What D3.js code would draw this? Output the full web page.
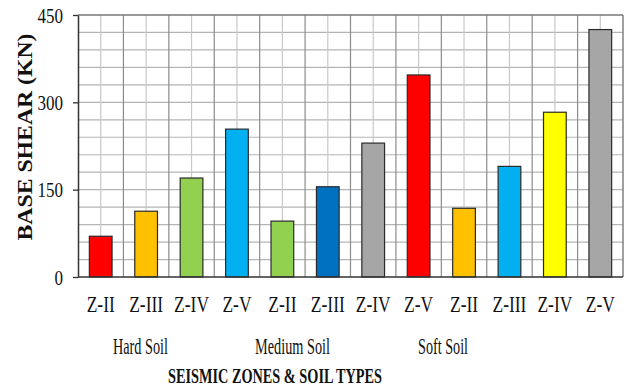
<!DOCTYPE html>
<html>
<head>
<meta charset="utf-8">
<script src="https://cdn.jsdelivr.net/npm/d3@7"></script>
<style>
  html, body { margin: 0; padding: 0; background: #fff; }
  svg { display: block; }
  svg text { font-family: "Liberation Serif", "Times New Roman", serif; fill: #111; }
</style>
</head>
<body>
<svg id="chart" width="627" height="390"></svg>
<script>
// Zone labels for each bar, soil groups, and base shear values (kN)
const zones = ["Z-II", "Z-III", "Z-IV", "Z-V", "Z-II", "Z-III", "Z-IV", "Z-V", "Z-II", "Z-III", "Z-IV", "Z-V"];
const soils = ["Hard Soil", "Medium Soil", "Soft Soil"];
const baseShear = [70, 113, 170, 254, 96, 155, 230, 347, 118, 190, 283, 425];
const yTicks = [0, 150, 300, 450];

// Bar fill palette, one per bar
const palette = ["#ff0000", "#ffc000", "#92d050", "#00b0f0",
                 "#92d050", "#0070c0", "#a6a6a6", "#ff0000",
                 "#ffc000", "#00b0f0", "#ffff00", "#a6a6a6"];

const svg = d3.select("#chart");
const plotL = 78, plotR = 623, plotT = 15, plotB = 277;
const SERIF = "Liberation Serif, Times New Roman, serif";

const idx = d3.range(baseShear.length);
const x = d3.scaleBand().domain(idx).range([plotL, plotR]).padding(0);
const y = d3.scaleLinear().domain([0, 450]).range([plotB, plotT]);

// Horizontal gridlines every 30 kN
const hLines = d3.range(30, 450, 30);
svg.append("g").selectAll("line").data(hLines).join("line")
  .attr("x1", plotL).attr("x2", plotR)
  .attr("y1", d => y(d)).attr("y2", d => y(d))
  .attr("stroke", "#b4b4b4").attr("stroke-width", 1.2);

// Vertical gridlines: light through bar centres, darker at category boundaries
svg.append("g").selectAll("line").data(idx).join("line")
  .attr("x1", d => x(d) + x.bandwidth() / 2).attr("x2", d => x(d) + x.bandwidth() / 2)
  .attr("y1", plotT).attr("y2", plotB)
  .attr("stroke", "#c8c8c8").attr("stroke-width", 1.2);
svg.append("g").selectAll("line").data(idx.slice(1)).join("line")
  .attr("x1", d => x(d)).attr("x2", d => x(d))
  .attr("y1", plotT).attr("y2", plotB)
  .attr("stroke", "#8c8c8c").attr("stroke-width", 1.2);

// Plot frame (top and right)
svg.append("line").attr("x1", plotL).attr("x2", plotR).attr("y1", plotT).attr("y2", plotT)
  .attr("stroke", "#777").attr("stroke-width", 1.4);
svg.append("line").attr("x1", plotR).attr("x2", plotR).attr("y1", plotT).attr("y2", plotB)
  .attr("stroke", "#777").attr("stroke-width", 1.4);

// Bars
const bw = x.bandwidth() * 0.5;
svg.append("g").selectAll("rect").data(idx).join("rect")
  .attr("x", d => x(d) + (x.bandwidth() - bw) / 2)
  .attr("y", d => y(baseShear[d]))
  .attr("width", bw)
  .attr("height", d => y(0) - y(baseShear[d]))
  .attr("fill", d => palette[d])
  .attr("stroke", "#2a2a2a").attr("stroke-width", 1.2);

// Y axis
const yAxis = d3.axisLeft(y).tickValues(yTicks).tickSize(5).tickSizeOuter(0).tickPadding(0);
const ya = svg.append("g").attr("transform", `translate(${plotL},0)`).call(yAxis);
ya.select(".domain").attr("stroke", "#333").attr("stroke-width", 1.5);
ya.selectAll(".tick line").attr("stroke", "#333").attr("stroke-width", 1.3);
ya.selectAll(".tick text").remove();
ya.selectAll(".tick").append("text")
  .attr("transform", "translate(-15,7.2) scale(1,1.25)")
  .attr("text-anchor", "end")
  .attr("font-family", SERIF)
  .attr("font-size", 17)
  .attr("fill", "#111")
  .text(d => d);

// X axis baseline
svg.append("line").attr("x1", plotL).attr("x2", plotR).attr("y1", plotB).attr("y2", plotB)
  .attr("stroke", "#333").attr("stroke-width", 1.5);

// Zone labels under each bar
svg.append("g").selectAll("text").data(idx).join("text")
  .attr("transform", d => `translate(${x(d) + x.bandwidth() / 2},312) scale(1,1.3)`)
  .attr("text-anchor", "middle")
  .attr("font-family", SERIF)
  .attr("font-size", 17.5)
  .text(d => zones[d]);

// Soil group labels
const soilX = [140.5, 292.5, 443];
const soilW = [55, 75, 50];
svg.append("g").selectAll("text").data(soils).join("text")
  .attr("transform", (d, i) => `translate(${soilX[i]},354) scale(1,1.3)`)
  .attr("text-anchor", "middle")
  .attr("font-family", SERIF)
  .attr("font-size", 17.5)
  .attr("textLength", (d, i) => soilW[i])
  .attr("lengthAdjust", "spacingAndGlyphs")
  .text(d => d);

// Axis titles
svg.append("text")
  .attr("transform", "translate(275,383) scale(1,1.22)")
  .attr("text-anchor", "middle")
  .attr("font-family", SERIF)
  .attr("font-size", 17).attr("font-weight", "bold")
  .attr("textLength", 214).attr("lengthAdjust", "spacingAndGlyphs")
  .text("SEISMIC ZONES & SOIL TYPES");

svg.append("text")
  .attr("transform", "translate(32,137) rotate(-90)")
  .attr("text-anchor", "middle")
  .attr("font-family", SERIF)
  .attr("font-size", 20).attr("font-weight", "bold")
  .attr("textLength", 207).attr("lengthAdjust", "spacingAndGlyphs")
  .text("BASE SHEAR (KN)");
</script>
</body>
</html>
